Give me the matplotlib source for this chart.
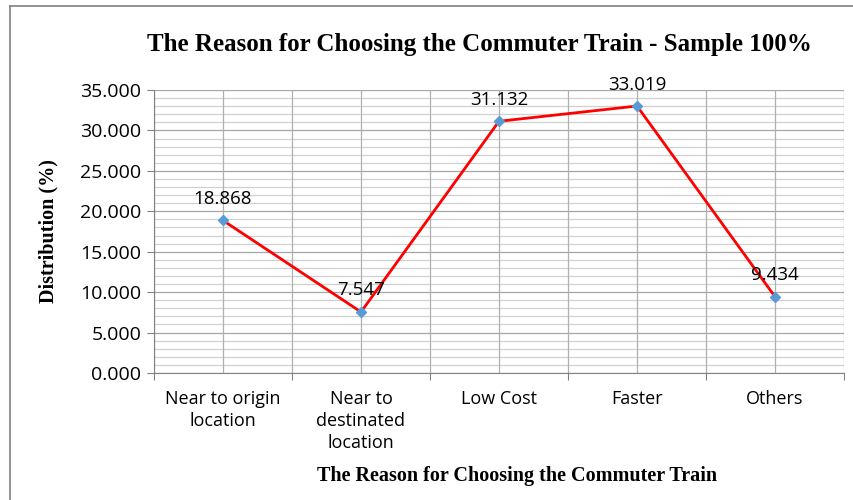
import matplotlib
matplotlib.use("Agg")
import matplotlib.pyplot as plt
from matplotlib.lines import Line2D
import numpy as np

categories = ["Near to origin\nlocation", "Near to\ndestinated\nlocation", "Low Cost", "Faster", "Others"]
values = [18.868, 7.547, 31.132, 33.019, 9.434]
y_ticks = [0, 5, 10, 15, 20, 25, 30, 35]
title = "The Reason for Choosing the Commuter Train - Sample 100%"
xlabel = "The Reason for Choosing the Commuter Train"
ylabel = "Distribution (%)"

fig = plt.figure(figsize=(8.54, 5.0), dpi=100)
ax = fig.add_axes([154/854, 1-373/500, (844-154)/854, (373-90)/500])

x = np.arange(len(categories))
ax.set_xlim(-0.5, len(categories)-0.5)
ax.set_ylim(0, 35)

# gridlines
for yv in np.arange(0, 36, 1):
    if yv % 5 == 0:
        ax.axhline(yv, color="#A6A6A6", lw=0.9, zorder=1)
    else:
        ax.axhline(yv, color="#D0D0D0", lw=0.9, zorder=1)
for xv in np.arange(-0.5, len(categories), 0.5):
    ax.axvline(xv, color="#B0B0B0", lw=0.9, zorder=1)

ax.plot(x, values, color="#FF0000", lw=2.0, zorder=3)
ax.plot(x, values, linestyle="none", marker="D", markersize=5.5, color="#5B9BD5", zorder=4)

for xi, v in zip(x, values):
    ax.annotate(f"{v:.3f}", (xi, v), xytext=(0, 9), textcoords="offset points",
                ha="center", va="bottom", fontsize=13.5, family="Open Sans", color="#000000", zorder=5)

ax.set_yticks(y_ticks)
ax.set_yticklabels([f"{t:.3f}" for t in y_ticks], fontsize=14, family="Open Sans")
ax.set_xticks(np.arange(-0.5, len(categories), 1.0))
ax.set_xticklabels([])
ax.set_xticks(x, minor=True)
ax.set_xticklabels(categories, minor=True, fontsize=13, family="Open Sans", linespacing=1.3)
ax.tick_params(axis="x", which="minor", length=0, pad=12)
ax.tick_params(axis="x", which="major", length=5, color="#808080", direction="out")
ax.tick_params(axis="y", which="major", length=5, color="#808080", direction="out", pad=4)
for lbl in ax.get_xticklabels(minor=True):
    lbl.set_verticalalignment("top")

for s in ["top", "right"]:
    ax.spines[s].set_visible(False)
ax.spines["left"].set_color("#808080")
ax.spines["bottom"].set_color("#808080")

fig.text(479/854, 1-45/500, title, ha="center", va="center", fontsize=18,
         fontweight="bold", family="Liberation Serif")
fig.text(517/854, 1-476/500, xlabel, ha="center", va="center", fontsize=14.5,
         fontweight="bold", family="Liberation Serif")
fig.text(48/854, 1-231/500, ylabel, ha="center", va="center", rotation=90, fontsize=14.5,
         fontweight="bold", family="Liberation Serif")

# outer chart border (partly cropped in reference)
fig.add_artist(Line2D([10/854, 1.0], [1-6/500, 1-6/500], color="#808080", lw=1.2, transform=fig.transFigure))
fig.add_artist(Line2D([10/854, 10/854], [0, 1-6/500], color="#808080", lw=1.2, transform=fig.transFigure))

fig.savefig("out.png", dpi=100)
